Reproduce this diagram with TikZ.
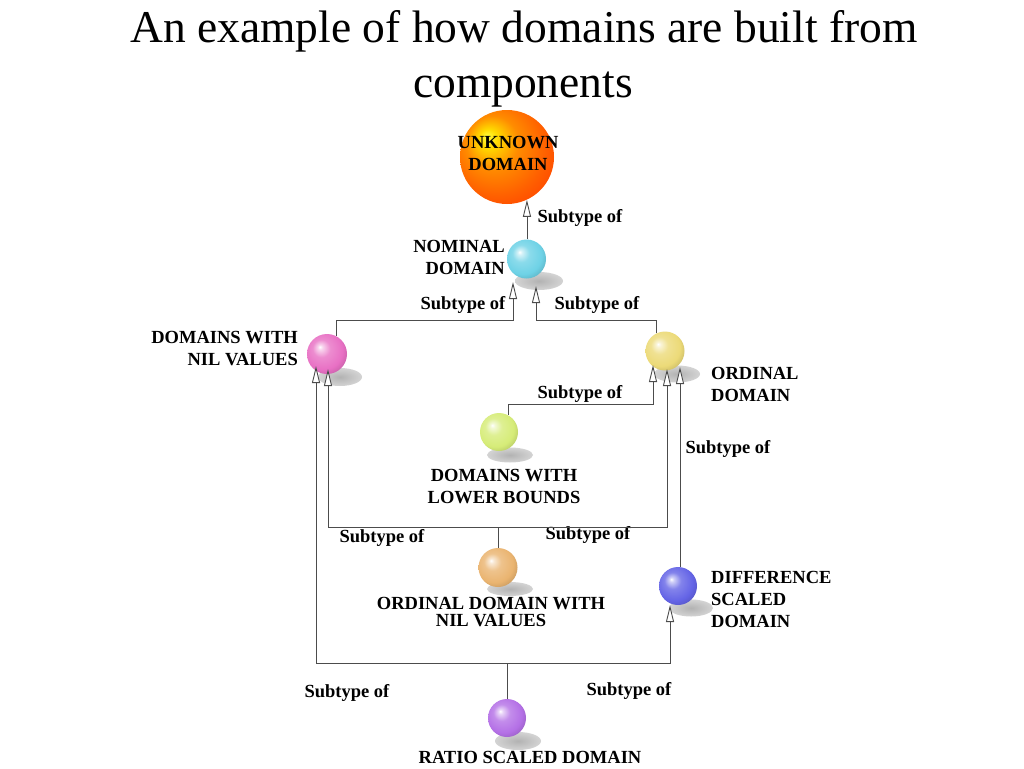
\documentclass[tikz,border=0pt]{standalone}
\usepackage{fontspec}
\setmainfont{Liberation Serif}
\usetikzlibrary{arrows.meta,shapes.geometric}
\colorlet{gcol}{gray}
\pgfdeclareradialshading[gcol]{gloss}{\pgfqpoint{-9bp}{9bp}}{color(0bp)=(white); color(3bp)=(gcol!30!white); color(11bp)=(gcol!80!white); color(24bp)=(gcol); color(32bp)=(gcol!85!black); color(50bp)=(gcol!70!black)}
\pgfdeclareradialshading{oball}{\pgfqpoint{-11bp}{11bp}}{color(0bp)=(yellow!75!white); color(5bp)=(yellow!70!orange); color(14bp)=(orange!90!yellow); color(26bp)=(orange!75!red); color(34bp)=(orange!55!red); color(50bp)=(red!75!black)}
\definecolor{cPink}{RGB}{232,112,196}
\definecolor{cCyan}{RGB}{110,210,230}
\definecolor{cYel}{RGB}{236,218,120}
\definecolor{cGreen}{RGB}{214,236,120}
\definecolor{cTan}{RGB}{234,180,112}
\definecolor{cBlue}{RGB}{100,100,230}
\definecolor{cPurp}{RGB}{180,112,230}
\begin{document}
\begin{tikzpicture}[x=1pt,y=-1pt,
  lbl/.style={font=\fontsize{18.5}{22}\selectfont\bfseries, inner sep=0pt},
  sph/.style={circle, inner sep=0pt, minimum size=39pt, shade, shading=gloss, /utils/exec={\colorlet{gcol}{#1}}},
  shd/.style={ellipse, inner sep=0pt, shade, inner color=black!30, outer color=black!17},
  con/.style={draw=black!70, line width=0.9pt},
  arr/.style={con, -{Triangle[length=17pt,width=8pt,fill=white]}}]
\useasboundingbox (0,0) rectangle (1024,768);
\fill[white] (0,0) rectangle (1024,768);

% title
\node[anchor=base, font=\fontsize{45.5}{53}\selectfont] (t1) at (524,43) {An example of how domains are built from};
\node[anchor=base, font=\fontsize{45.5}{53}\selectfont] (t2) at (523,97) {components};

% shadows
\node[shd, minimum width=48pt, minimum height=18pt] (nomSh) at (539,281) {};
\node[shd, minimum width=44pt, minimum height=18pt] (nilSh) at (340,377) {};
\node[shd, minimum width=46pt, minimum height=17pt] (ordSh) at (677,374) {};
\node[shd, minimum width=46pt, minimum height=15pt] (lbSh) at (510,455) {};
\node[shd, minimum width=46pt, minimum height=14pt] (onilSh) at (510,589) {};
\node[shd, minimum width=44pt, minimum height=17pt] (diffSh) at (691,608) {};
\node[shd, minimum width=46pt, minimum height=18pt] (ratioSh) at (518,741) {};

% spheres
\node[circle, inner sep=0pt, minimum size=94pt, shade, shading=oball] (unk) at (507,157) {};
\node[sph=cCyan] (nom) at (526.5,259) {};
\node[sph=cPink, minimum size=40pt] (nil) at (327,354) {};
\node[sph=cYel] (ord) at (665,351) {};
\node[sph=cGreen, minimum size=38pt] (lb) at (499,432) {};
\node[sph=cTan] (onil) at (498,567.5) {};
\node[sph=cBlue, minimum size=38pt] (diff) at (678,586) {};
\node[sph=cPurp, minimum size=38pt] (ratio) at (507,718) {};

% labels
\node[lbl, align=center] (unkL) at (508,153) {UNKNOWN\\DOMAIN};
\node[lbl, align=right, anchor=east] (nomL) at (505,257) {NOMINAL\\DOMAIN};
\node[lbl, align=right, anchor=east] (nilL) at (298,349) {DOMAINS WITH\\NIL VALUES};
\node[lbl, align=left, anchor=west] (ordL) at (711,384) {ORDINAL\\DOMAIN};
\node[lbl, align=center] (lbL) at (504,487) {DOMAINS WITH\\LOWER BOUNDS};
\node[lbl, align=center, font=\fontsize{18.5}{17}\selectfont\bfseries] (onilL) at (491,612) {ORDINAL DOMAIN WITH\\NIL VALUES};
\node[lbl, align=left, anchor=west] (diffL) at (711,599) {DIFFERENCE\\SCALED\\DOMAIN};
\node[lbl] (ratioL) at (530,757) {RATIO SCALED DOMAIN};

% connector labels
\node[lbl] (s1) at (580,218) {Subtype of};
\node[lbl] (s2) at (463,305) {Subtype of};
\node[lbl] (s3) at (597,305) {Subtype of};
\node[lbl] (s4) at (580,394) {Subtype of};
\node[lbl] (s5) at (728,449) {Subtype of};
\node[lbl] (s6) at (382,538) {Subtype of};
\node[lbl] (s7) at (588,535) {Subtype of};
\node[lbl] (s8) at (347,693) {Subtype of};
\node[lbl] (s9) at (629,691) {Subtype of};

% connector end points
\coordinate (nomIL) at ([shift={(-13.5,23)}]nom.center);
\coordinate (nomIR) at ([shift={(9.5,27)}]nom.center);
\coordinate (ordI1) at ([shift={(-12,14)}]ord.center);
\coordinate (ordI2) at ([shift={(2,18)}]ord.center);
\coordinate (ordI3) at ([shift={(15,16)}]ord.center);
\coordinate (nilI1) at ([shift={(-11,12)}]nil.center);
\coordinate (nilI2) at ([shift={(1,15)}]nil.center);
\coordinate (diffI) at ([shift={(-8,19)}]diff.center);
\coordinate (jTopL) at (513,320);
\coordinate (jTopR) at (536,320);
\coordinate (jLB) at (653,404);
\coordinate (jMid) at (498,527);
\coordinate (jBot) at (507,663);

% connectors
\draw[arr] (unk.-65 |- nom.north) -- (unk.-65);
\draw[arr] (nil.63) |- (jTopL) -- (nomIL);
\draw[arr] (ord.117) |- (jTopR) -- (nomIR);
\draw[arr] (lb.62) |- (jLB) -- (ordI1);
\draw[arr] (onil.north) -- (jMid) -| (nilI2);
\draw[arr] (onil.north) -- (jMid) -| (ordI2);
\draw[arr] (ordI3 |- diff.north) -- (ordI3);
\draw[arr] (ratio.north) -- (jBot) -| (nilI1);
\draw[arr] (ratio.north) -- (jBot) -| (diffI);
\end{tikzpicture}
\end{document}
